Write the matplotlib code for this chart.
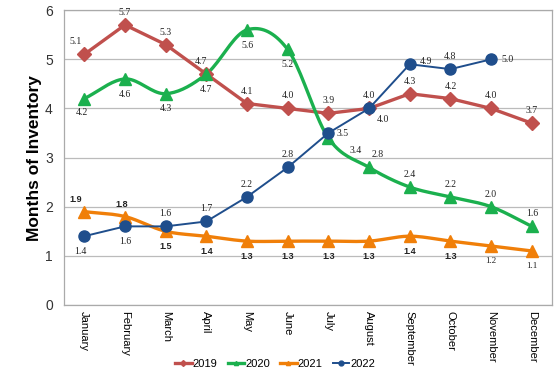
import numpy as np
import matplotlib
matplotlib.use("Agg")
import matplotlib.pyplot as plt

months = ['January', 'February', 'March', 'April', 'May', 'June', 'July',
          'August', 'September', 'October', 'November', 'December']
v2019 = [5.1, 5.7, 5.3, 4.7, 4.1, 4.0, 3.9, 4.0, 4.3, 4.2, 4.0, 3.7]
v2020 = [4.2, 4.6, 4.3, 4.7, 5.6, 5.2, 3.4, 2.8, 2.4, 2.2, 2.0, 1.6]
v2021 = [1.9, 1.8, 1.5, 1.4, 1.3, 1.3, 1.3, 1.3, 1.4, 1.3, 1.2, 1.1]
v2022 = [1.4, 1.6, 1.6, 1.7, 2.2, 2.8, 3.5, 4.0, 4.9, 4.8, 5.0]

# label offsets in points (dx, dy) for each series
off2019 = [(-6, 9), (0, 9), (0, 9), (-4, 9), (0, 9), (0, 9), (0, 9), (0, 9), (0, 9), (0, 9), (0, 9), (0, 9)]
off2020 = [(-2, -10), (0, -11), (0, -11), (0, -11), (0, -11), (0, -11), (20, -9), (6, 9), (0, 9), (0, 9), (0, 9), (0, 9)]
off2021 = [(-6, 9), (-2, 9), (0, -11), (0, -11), (0, -11), (0, -11), (0, -11), (0, -11), (0, -11), (0, -11), (0, -11), (0, -11)]
off2022 = [(-3, -11), (0, -11), (0, 9), (0, 9), (0, 9), (0, 9), (10, 0), (10, -8), (12, 2), (0, 9), (12, 0)]

c2019 = '#C0504D'
c2020 = '#1BB04E'
c2021 = '#F07F09'
c2022 = '#1F4E8C'


def smooth(x, y, n=20):
    # Catmull-Rom style curve through the points (like Excel smoothed line)
    x = np.asarray(x, float)
    y = np.asarray(y, float)
    px = np.concatenate([[2 * x[0] - x[1]], x, [2 * x[-1] - x[-2]]])
    py = np.concatenate([[2 * y[0] - y[1]], y, [2 * y[-1] - y[-2]]])
    xs, ys = [], []
    t = np.linspace(0, 1, n)
    for i in range(1, len(px) - 2):
        p0, p1, p2, p3 = py[i - 1], py[i], py[i + 1], py[i + 2]
        q0, q1, q2, q3 = px[i - 1], px[i], px[i + 1], px[i + 2]
        ys.append(0.5 * ((2 * p1) + (-p0 + p2) * t + (2 * p0 - 5 * p1 + 4 * p2 - p3) * t ** 2
                         + (-p0 + 3 * p1 - 3 * p2 + p3) * t ** 3))
        xs.append(0.5 * ((2 * q1) + (-q0 + q2) * t + (2 * q0 - 5 * q1 + 4 * q2 - q3) * t ** 2
                         + (-q0 + 3 * q1 - 3 * q2 + q3) * t ** 3))
    return np.concatenate(xs), np.concatenate(ys)


fig = plt.figure(figsize=(5.56, 3.77), dpi=100)
ax = fig.add_axes([0.115, 0.191, 0.878, 0.782])

x = np.arange(len(months))

# 2019 straight
ax.plot(x, v2019, color=c2019, lw=2.4, zorder=3)
ax.plot(x, v2019, ls='none', marker='D', ms=7.5, color=c2019, zorder=4)
# 2020 smooth
sx, sy = smooth(x, v2020)
ax.plot(sx, sy, color=c2020, lw=2.4, zorder=3)
ax.plot(x, v2020, ls='none', marker='^', ms=9, color=c2020, zorder=4)
# 2021 smooth
sx, sy = smooth(x, v2021)
ax.plot(sx, sy, color=c2021, lw=2.4, zorder=3)
ax.plot(x, v2021, ls='none', marker='^', ms=9, color=c2021, zorder=4)
# 2022 straight
x22 = np.arange(len(v2022))
ax.plot(x22, v2022, color=c2022, lw=1.4, zorder=5)
ax.plot(x22, v2022, ls='none', marker='o', ms=8, color=c2022, zorder=6)

# legend handles
ax.plot([], [], color=c2019, lw=2.4, marker='D', ms=3, label='2019')
ax.plot([], [], color=c2020, lw=2.4, marker='^', ms=3, label='2020')
ax.plot([], [], color=c2021, lw=2.4, marker='^', ms=3, label='2021')
ax.plot([], [], color=c2022, lw=1.4, marker='o', ms=3.5, label='2022')

serif = 'Liberation Serif'
for vals, offs, xs_ in [(v2019, off2019, x), (v2020, off2020, x), (v2022, off2022, x22)]:
    for xi, v, (dx, dy) in zip(xs_, vals, offs):
        ax.annotate(f'{v:.1f}', (xi, v), xytext=(dx, dy), textcoords='offset points',
                    ha='center', va='center', fontsize=7, family=serif, color='#222222', zorder=7)
for i, (v, (dx, dy)) in enumerate(zip(v2021, off2021)):
    if i >= 10:
        kw = dict(family=serif)
    else:
        kw = dict(family='Liberation Sans', fontweight='bold')
    ax.annotate(f'{v:.1f}', (i, v), xytext=(dx, dy), textcoords='offset points',
                ha='center', va='center', fontsize=6.5, color='#222222', zorder=7, **kw)

ax.set_xlim(-0.5, 11.5)
ax.set_ylim(0, 6)
ax.set_yticks(range(7))
ax.set_xticks(x)
ax.set_xticklabels(months, rotation=270, fontsize=8, family='Liberation Sans')
ax.tick_params(axis='y', labelsize=10, length=0, pad=8, labelcolor='#333333')
ax.tick_params(axis='x', length=0, pad=4)
for lab in ax.get_yticklabels():
    lab.set_family('Liberation Sans')
ax.grid(axis='y', color='#BBBBBB', lw=0.9)
ax.set_axisbelow(True)
for s in ax.spines.values():
    s.set_color('#AAAAAA')
    s.set_linewidth(0.9)
ax.set_ylabel('Months of Inventory', fontsize=12.5, fontweight='bold', family='Liberation Sans', labelpad=2)

fig.legend(loc='center', bbox_to_anchor=(0.495, 0.034), ncol=4, frameon=False,
           handlelength=1.5, handletextpad=0.1, columnspacing=0.9,
           prop={'family': 'Liberation Sans', 'size': 8})

fig.savefig('out.png', dpi=100)
